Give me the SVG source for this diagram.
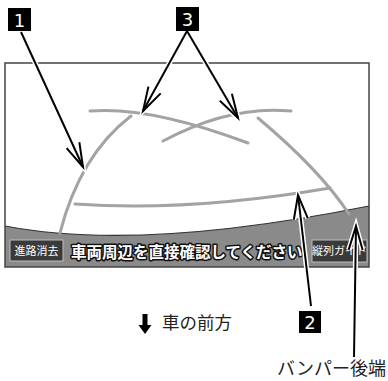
<svg xmlns="http://www.w3.org/2000/svg" width="388" height="381" viewBox="0 0 388 381">
<style>
.guide{fill:none;stroke:#a3a3a3;stroke-width:3;stroke-linecap:round}
.halo{fill:none;stroke:#fff;stroke-width:5}
.arr{fill:none;stroke:#000;stroke-width:2}
.jp{font-family:"Noto Sans CJK JP","Noto Sans",sans-serif}
.num{font-family:"DejaVu Sans","Liberation Sans",sans-serif;font-size:18px;fill:#fff;text-anchor:middle}
.btn{fill:#3a3a3a;stroke:#bdbdbd;stroke-width:1}
.btxt{fill:#fff;font-size:11px;text-anchor:middle}
</style>
<defs>
<marker id="ah" markerUnits="userSpaceOnUse" orient="auto" overflow="visible" markerWidth="1" markerHeight="1">
<path d="M-24,-7 L0,0 L-24,7" fill="none" stroke="#000" stroke-width="2" stroke-linejoin="miter"/>
</marker>
<marker id="ahw" markerUnits="userSpaceOnUse" orient="auto" overflow="visible" markerWidth="1" markerHeight="1">
<path d="M-24,-7 L0,0 L-24,7" fill="none" stroke="#fff" stroke-width="5"/>
</marker>
</defs>
<rect width="388" height="381" fill="#fff"/>
<g id="screen">
<rect x="5" y="63" width="364" height="204" fill="#fff"/>
<path d="M5,226 Q140,252 369,206 L369,267 L5,267 Z" fill="#8a8a8a"/>
<path d="M5,226 Q140,252 369,206" fill="none" stroke="#333" stroke-width="1.2"/>
<rect x="5" y="63" width="364" height="204" fill="none" stroke="#444" stroke-width="1.5"/>
</g>
<g id="guides">
<path class="guide" d="M90,111 Q150,106 248,143"/>
<path class="guide" d="M163,141 Q230,105 291,111"/>
<path class="guide" d="M131,116 Q80,155 60,233"/>
<path class="guide" d="M258,118 Q320,170 349,214"/>
<path class="guide" d="M75,204 Q190,212 330,188"/>
</g>
<g id="btn-clear">
<rect class="btn" x="10" y="240" width="53" height="21"/>
<text class="jp btxt" x="36.5" y="254.5">進路消去</text>
</g>
<g id="btn-guide">
<rect class="btn" x="312" y="240" width="55" height="22"/>
<text class="jp btxt" x="339.5" y="255" font-size="10.5">縦列ガイド</text>
</g>
<g id="message">
<text class="jp" x="71" y="257.5" font-size="15.5" font-weight="bold" fill="#fff" stroke="#111" stroke-width="3" paint-order="stroke" stroke-linejoin="round">車両周辺を直接確認してください</text>
</g>
<g id="connectors">
<path class="halo" d="M21,32 L83,167" marker-end="url(#ahw)"/>
<path class="halo" d="M187,31 L143,111" marker-end="url(#ahw)"/>
<path class="halo" d="M187,31 L238,118" marker-end="url(#ahw)"/>
<path class="halo" d="M311,306 L298,195" marker-end="url(#ahw)"/>
<path class="halo" d="M354,357 L356,226" marker-end="url(#ahw)"/>
<path class="arr" d="M21,32 L83,167" marker-end="url(#ah)"/>
<path class="arr" d="M187,31 L143,111" marker-end="url(#ah)"/>
<path class="arr" d="M187,31 L238,118" marker-end="url(#ah)"/>
<path class="arr" d="M311,306 L298,195" marker-end="url(#ah)"/>
<path class="arr" d="M354,357 L356,226" marker-end="url(#ah)"/>
</g>
<g id="label-1">
<rect x="8" y="8" width="23" height="23" fill="#000"/>
<text class="num" x="19.5" y="26.5">1</text>
</g>
<g id="label-3">
<rect x="176" y="7" width="23" height="24" fill="#000"/>
<text class="num" x="187.5" y="26">3</text>
</g>
<g id="label-2">
<rect x="299" y="311" width="22" height="22" fill="#000"/>
<text class="num" x="310" y="329">2</text>
</g>
<g id="front">
<path d="M142.5,314 H147.5 V325 H151.5 L145,334 L138.5,325 H142.5 Z" fill="#000"/>
<text class="jp" x="162" y="329" font-size="17.5" fill="#222">車の前方</text>
</g>
<g id="bumper">
<text class="jp" x="277" y="375" font-size="18" fill="#222">バンパー後端</text>
</g>
</svg>
